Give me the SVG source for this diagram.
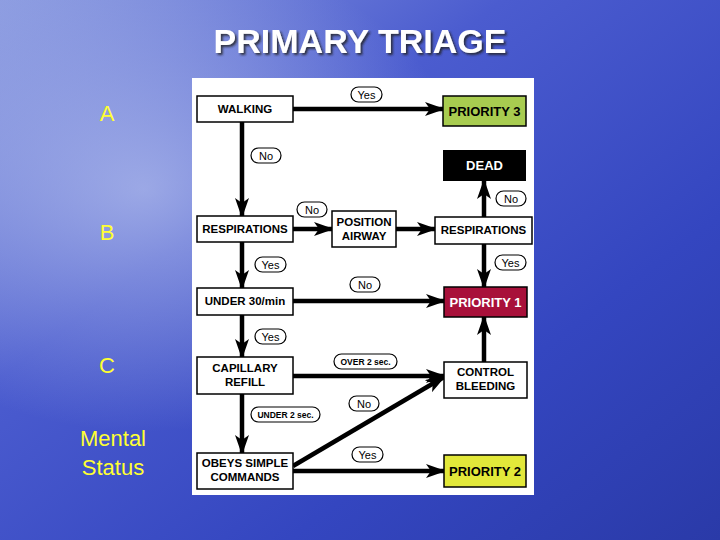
<svg xmlns="http://www.w3.org/2000/svg" width="720" height="540" viewBox="0 0 720 540">
<defs>
<linearGradient id="bg" x1="0" y1="0" x2="1" y2="1">
<stop offset="0" stop-color="#8a9ae0"/><stop offset="0.35" stop-color="#4b5ccf"/><stop offset="0.7" stop-color="#3446c0"/><stop offset="1" stop-color="#2a3aa8"/>
</linearGradient>
<radialGradient id="cl" cx="0.2" cy="0.35" r="0.45">
<stop offset="0" stop-color="#c8d2f2" stop-opacity="0.6"/><stop offset="1" stop-color="#c8d2f2" stop-opacity="0"/>
</radialGradient>
<filter id="sh" x="-10%" y="-30%" width="120%" height="160%">
<feDropShadow dx="2" dy="2" stdDeviation="0.8" flood-color="#222" flood-opacity="0.8"/>
</filter>
<marker id="ah" markerUnits="userSpaceOnUse" markerWidth="20" markerHeight="14" refX="18" refY="7" orient="auto">
<path d="M0,0 L20,7 L0,14 L5,7 Z" fill="#000"/>
</marker>
</defs>
<style>
.box{fill:#fff;stroke:#000;stroke-width:1.5}
.t{font-family:"Liberation Sans",Arial,sans-serif;font-weight:bold;font-size:11.5px;text-anchor:middle}
.big{font-size:13px}
.pill{fill:#fff;stroke:#000;stroke-width:1.2}
.pl{font-family:"Liberation Sans",Arial,sans-serif;font-size:11px;text-anchor:middle}
.sm{font-size:8.5px;font-weight:bold}
.c{stroke:#000;stroke-width:4.5;fill:none;marker-end:url(#ah)}
.side{font-family:"Liberation Sans",Arial,sans-serif;font-size:22px;fill:#ffff33;text-anchor:middle}
</style>
<rect width="720" height="540" fill="url(#bg)"/>
<rect width="720" height="540" fill="url(#cl)"/>
<text x="360" y="53" font-family="Liberation Sans,Arial,sans-serif" font-weight="bold" font-size="34" text-anchor="middle" fill="#fff" filter="url(#sh)">PRIMARY TRIAGE</text>
<text class="side" x="107" y="121">A</text>
<text class="side" x="107" y="240">B</text>
<text class="side" x="107" y="373">C</text>
<text class="side" x="113" y="446">Mental</text>
<text class="side" x="113" y="475">Status</text>
<rect x="192" y="78" width="342" height="417" fill="#fff"/>
<g id="connectors">
<line class="c" x1="293" y1="109" x2="443" y2="109"/>
<line class="c" x1="242" y1="122" x2="242" y2="216"/>
<line class="c" x1="293" y1="229" x2="332" y2="229"/>
<line class="c" x1="396" y1="229" x2="435" y2="229"/>
<line class="c" x1="484" y1="217" x2="484" y2="181"/>
<line class="c" x1="484" y1="244" x2="484" y2="287"/>
<line class="c" x1="242" y1="242" x2="242" y2="288"/>
<line class="c" x1="293" y1="301" x2="444" y2="301"/>
<line class="c" x1="242" y1="315" x2="242" y2="357"/>
<line class="c" x1="293" y1="376" x2="444" y2="376"/>
<line class="c" x1="242" y1="394" x2="242" y2="453"/>
<line class="c" x1="293" y1="466" x2="444" y2="377"/>
<line class="c" x1="293" y1="471" x2="444" y2="471"/>
<line class="c" x1="484" y1="362" x2="484" y2="317"/>
<rect class="pill" x="351" y="87" width="31" height="15" rx="7.5"/><text class="pl" x="366.5" y="98.5">Yes</text>
<rect class="pill" x="251" y="148" width="30" height="15" rx="7.5"/><text class="pl" x="266" y="159.5">No</text>
<rect class="pill" x="297" y="202" width="30" height="15" rx="7.5"/><text class="pl" x="312" y="213.5">No</text>
<rect class="pill" x="496" y="191" width="30" height="15" rx="7.5"/><text class="pl" x="511" y="202.5">No</text>
<rect class="pill" x="495" y="255" width="31" height="15" rx="7.5"/><text class="pl" x="510.5" y="266.5">Yes</text>
<rect class="pill" x="255" y="257" width="31" height="15" rx="7.5"/><text class="pl" x="270.5" y="268.5">Yes</text>
<rect class="pill" x="350" y="277" width="30" height="15" rx="7.5"/><text class="pl" x="365" y="288.5">No</text>
<rect class="pill" x="255" y="329" width="31" height="15" rx="7.5"/><text class="pl" x="270.5" y="340.5">Yes</text>
<rect class="pill" x="334" y="354" width="63" height="15" rx="7.5"/><text class="pl sm" x="365.5" y="364.5">OVER 2 sec.</text>
<rect class="pill" x="251" y="407" width="69" height="15" rx="7.5"/><text class="pl sm" x="285.5" y="417.5">UNDER 2 sec.</text>
<rect class="pill" x="349" y="396" width="30" height="15" rx="7.5"/><text class="pl" x="364" y="407.5">No</text>
<rect class="pill" x="352" y="447" width="31" height="15" rx="7.5"/><text class="pl" x="367.5" y="458.5">Yes</text>
</g>
<g id="walking"><rect class="box" x="197" y="96" width="96" height="26"/><text class="t" x="245" y="113">WALKING</text></g>
<g id="p3"><rect class="box" x="443" y="96" width="83" height="30" style="fill:#a8cc50"/><text class="t big" x="484.5" y="116">PRIORITY 3</text></g>
<g id="dead"><rect x="443" y="150" width="83" height="31" fill="#000"/><text class="t big" x="484.5" y="170" fill="#fff">DEAD</text></g>
<g id="resp1"><rect class="box" x="197" y="216" width="96" height="26"/><text class="t" x="245" y="233">RESPIRATIONS</text></g>
<g id="airway"><rect class="box" x="332" y="211" width="64" height="36"/><text class="t" x="364" y="226">POSITION</text><text class="t" x="364" y="240">AIRWAY</text></g>
<g id="resp2"><rect class="box" x="435" y="217" width="97" height="27"/><text class="t" x="483.5" y="234">RESPIRATIONS</text></g>
<g id="under30"><rect class="box" x="197" y="288" width="96" height="27"/><text class="t" x="245" y="305">UNDER 30/min</text></g>
<g id="p1"><rect class="box" x="444" y="287" width="83" height="30" style="fill:#a8103a"/><text class="t big" x="485.5" y="307" fill="#fff">PRIORITY 1</text></g>
<g id="cap"><rect class="box" x="197" y="357" width="96" height="37"/><text class="t" x="245" y="372">CAPILLARY</text><text class="t" x="245" y="386">REFILL</text></g>
<g id="bleed"><rect class="box" x="444" y="362" width="83" height="36"/><text class="t" x="485.5" y="376">CONTROL</text><text class="t" x="485.5" y="390">BLEEDING</text></g>
<g id="obeys"><rect class="box" x="197" y="453" width="96" height="36"/><text class="t" x="245" y="467">OBEYS SIMPLE</text><text class="t" x="245" y="481">COMMANDS</text></g>
<g id="p2"><rect class="box" x="444" y="455" width="82" height="32" style="fill:#e2e83a"/><text class="t big" x="485" y="476">PRIORITY 2</text></g>
</svg>
